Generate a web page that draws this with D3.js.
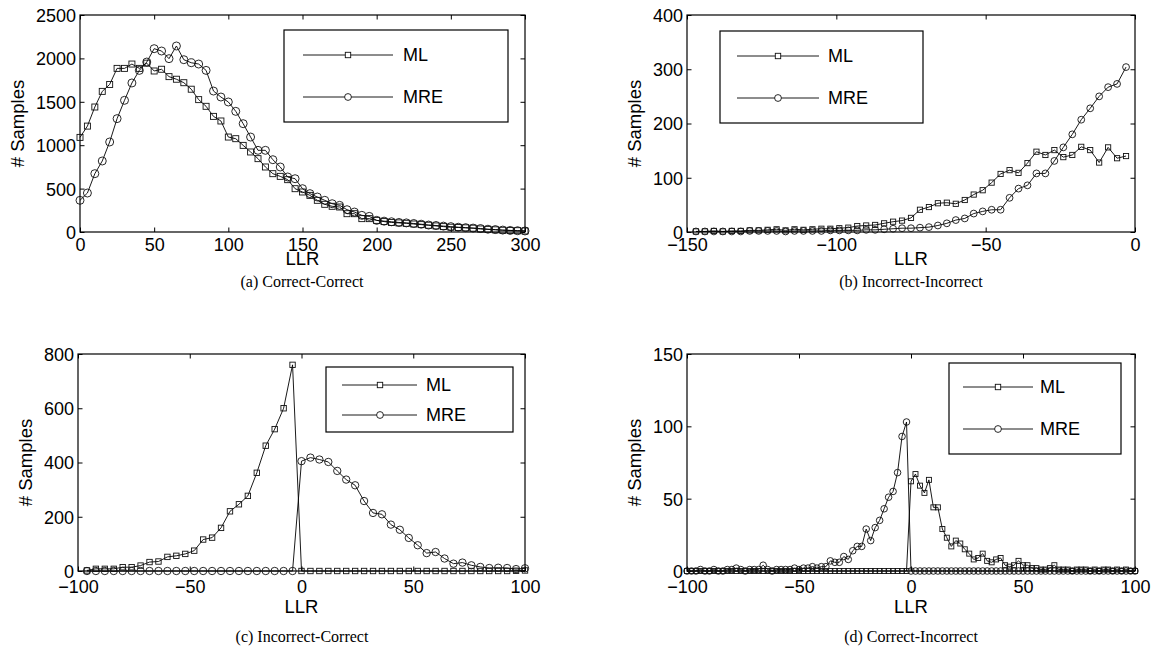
<!DOCTYPE html>
<html>
<head>
<meta charset="utf-8">
<script src="https://cdn.jsdelivr.net/npm/d3@7"></script>
<style>
  body { margin: 0; background: #fff; }
  svg text { font-family: "Liberation Sans", Arial, Helvetica, sans-serif; fill: #000; }
  svg text.caption { font-family: "Liberation Serif", "Times New Roman", serif; font-size: 16px; }
</style>
</head>
<body>
<svg id="fig" width="1155" height="658"></svg>
<script>
// ---- data ----
// (a) Correct-Correct, bins every 5 from 0 to 300
var llrA = d3.range(0, 301, 5);
var mlA = [1090, 1220, 1440, 1620, 1700, 1885, 1885, 1935, 1885, 1945, 1855, 1875, 1790, 1760, 1720, 1645,
  1525, 1448, 1332, 1279, 1094, 1075, 998, 922, 845, 749, 672, 641, 603, 499, 461, 422, 365, 319, 296, 288,
  211, 211, 154, 154, 134, 120, 110, 105, 100, 92, 85, 78, 70, 62, 55, 52, 48, 44, 35, 30, 25, 20, 18, 15, 12];
var mreA = [365, 449, 672, 818, 1037, 1306, 1517, 1717, 1862, 1958, 2112, 2085, 1997, 2143, 1985, 1950,
  1935, 1862, 1624, 1555, 1498, 1390, 1248, 1094, 941, 941, 833, 749, 634, 614, 499, 442, 403, 365, 326, 307,
  257, 230, 192, 180, 134, 125, 118, 110, 105, 98, 90, 80, 75, 68, 62, 55, 50, 45, 40, 32, 28, 22, 18, 15, 12];

// (b) Incorrect-Incorrect, bins every 3 from -147 to -3
var llrB = d3.range(-147, 0, 3);
var mlB = [1, 1, 2, 1, 2, 2, 3, 3, 4, 5, 3, 5, 4, 5, 6, 6, 7, 8, 11, 12, 13, 16, 19, 21, 26,
  41, 46, 53, 54, 52, 59, 69, 77, 91, 107, 114, 109, 127, 148, 142, 151, 138, 142, 157, 151, 128, 156, 136, 140];
var mreB = [1, 1, 1, 1, 1, 1, 2, 2, 2, 2, 1, 2, 2, 2, 2, 3, 3, 3, 3, 4, 4, 5, 6, 7, 7,
  8, 9, 12, 16, 22, 25, 34, 38, 41, 41, 63, 80, 86, 108, 108, 131, 156, 180, 207, 228, 250, 267, 273, 304];

// (c) Incorrect-Correct, bins every 4 from -96 to 100
var llrC = d3.range(-96, 101, 4);
var mlC = [2, 8, 8, 8, 14, 14, 20, 33, 35, 52, 56, 63, 75, 116, 123, 159, 220, 246, 277, 362, 462, 523, 600, 760,
  0, 0, 0, 0, 0, 0, 0, 0, 0, 0, 0, 0, 0, 0, 0, 0, 0, 0, 0, 0, 0, 0, 0, 0, 1, 2];
var mreC = [0, 0, 0, 0, 0, 0, 0, 0, 0, 0, 0, 0, 0, 0, 0, 0, 0, 0, 0, 0, 0, 0, 0, 0,
  405, 418, 411, 402, 369, 337, 316, 258, 214, 209, 171, 152, 122, 95, 66, 70, 46, 27, 31, 21, 15, 11, 12, 11, 7, 10];

// (d) Correct-Incorrect, bins every 2 from -100 to 100
var llrD = d3.range(-100, 101, 2);
var mlD = [0, 0, 0, 0, 0, 0, 0, 0, 0, 0, 0, 0, 0, 0, 0, 0, 0, 0, 0, 0, 0, 0, 0, 0, 0,
  0, 0, 0, 0, 0, 0, 0, 0, 0, 0, 0, 0, 0, 0, 0, 0, 0, 0, 0, 0, 0, 0, 0, 0, 0,
  62, 67, 59, 54, 63, 44, 44, 29, 23, 17, 21, 19, 15, 12, 8, 9, 12, 7, 6, 8, 9, 4, 3, 4, 7, 4,
  4, 2, 2, 1, 1, 2, 4, 1, 1, 1, 0, 1, 1, 1, 0, 1, 0, 1, 1, 0, 1, 0, 1, 0, 0];
var mreD = [0, 0, 0, 1, 0, 0, 1, 0, 0, 1, 1, 2, 1, 0, 1, 1, 1, 4, 1, 0, 1, 1, 1, 1, 2,
  1, 2, 2, 3, 2, 3, 3, 7, 6, 6, 10, 8, 14, 17, 17, 29, 21, 30, 35, 43, 51, 55, 68, 93, 103,
  0, 0, 0, 0, 0, 0, 0, 0, 0, 0, 0, 0, 0, 0, 0, 0, 0, 0, 0, 0, 0, 0, 0, 0, 0, 0,
  0, 0, 0, 0, 0, 0, 0, 0, 0, 0, 0, 0, 0, 0, 0, 0, 0, 0, 0, 0, 0, 0, 0, 0, 0];

var seriesNames = ["ML", "MRE"];

var svg = d3.select("#fig");
var fmt = d3.format("d");

function drawPanel(p) {
  var g = svg.append("g");
  var x = d3.scaleLinear().domain(p.xDomain).range([p.left, p.right]);
  var y = d3.scaleLinear().domain(p.yDomain).range([p.bottom, p.top]);
  var tl = 4.5;

  g.append("g").attr("transform", "translate(0," + p.bottom + ")")
    .call(d3.axisBottom(x).tickValues(p.xTicks).tickFormat(fmt).tickSize(-tl).tickSizeOuter(0).tickPadding(p.xpad));
  g.append("g").attr("transform", "translate(0," + p.top + ")")
    .call(d3.axisTop(x).tickValues(p.xTicks).tickSize(-tl).tickSizeOuter(0).tickFormat(""));
  var leftAxis = g.append("g").attr("transform", "translate(" + p.left + ",0)")
    .call(d3.axisLeft(y).tickValues(p.yTicks).tickFormat(fmt).tickSize(-tl).tickSizeOuter(0).tickPadding(4));
  g.append("g").attr("transform", "translate(" + p.right + ",0)")
    .call(d3.axisRight(y).tickValues(p.yTicks).tickSize(-tl).tickSizeOuter(0).tickFormat(""));

  g.selectAll(".domain").remove();
  g.selectAll(".tick line").attr("stroke", "#000").attr("stroke-width", 1);
  g.selectAll(".tick text").attr("font-size", 18).attr("font-family", null);
  leftAxis.selectAll(".tick text").attr("dy", "0.36em");

  g.append("rect")
    .attr("x", p.left).attr("y", p.top)
    .attr("width", p.right - p.left).attr("height", p.bottom - p.top)
    .attr("fill", "none").attr("stroke", "#000").attr("stroke-width", 1.2);

  // axis labels
  g.append("text").attr("x", (p.left + p.right) / 2).attr("y", p.bottom + p.xlabDy)
    .attr("text-anchor", "middle").attr("font-size", 18.5).text("LLR");
  g.append("text")
    .attr("transform", "translate(" + p.ylabX + "," + (p.top + p.bottom) / 2 + ") rotate(-90)")
    .attr("text-anchor", "middle").attr("font-size", 18.5).text("# Samples");

  var line = d3.line().x(function(d) { return x(d[0]); }).y(function(d) { return y(d[1]); });
  var sets = [d3.zip(p.llr, p.ml), d3.zip(p.llr, p.mre)];

  var plot = g.append("g");
  sets.forEach(function(pts) {
    plot.append("path").datum(pts).attr("d", line)
      .attr("fill", "none").attr("stroke", "#000").attr("stroke-width", 0.9);
  });
  // ML squares
  plot.selectAll("rect.ml").data(sets[0]).enter().append("rect")
    .attr("x", function(d) { return x(d[0]) - p.sq / 2; })
    .attr("y", function(d) { return y(d[1]) - p.sq / 2; })
    .attr("width", p.sq).attr("height", p.sq)
    .attr("fill", "none").attr("stroke", "#111").attr("stroke-width", 0.9);
  // MRE circles
  plot.selectAll("circle.mre").data(sets[1]).enter().append("circle")
    .attr("cx", function(d) { return x(d[0]); })
    .attr("cy", function(d) { return y(d[1]); })
    .attr("r", p.cr)
    .attr("fill", "none").attr("stroke", "#111").attr("stroke-width", 0.9);

  // legend
  var L = p.legend;
  var lg = g.append("g");
  lg.append("rect").attr("x", L.x).attr("y", L.y).attr("width", L.w).attr("height", L.h)
    .attr("fill", "#fff").attr("stroke", "#000").attr("stroke-width", 1.2);
  seriesNames.forEach(function(name, i) {
    var ly = L.rows[i];
    lg.append("line").attr("x1", L.l1).attr("x2", L.l2).attr("y1", ly).attr("y2", ly)
      .attr("stroke", "#000").attr("stroke-width", 0.9);
    if (i === 0) {
      lg.append("rect").attr("x", L.mk - 2.7).attr("y", ly - 2.7).attr("width", 5.4).attr("height", 5.4)
        .attr("fill", "#fff").attr("stroke", "#111").attr("stroke-width", 0.9);
    } else {
      lg.append("circle").attr("cx", L.mk).attr("cy", ly).attr("r", 3.4)
        .attr("fill", "#fff").attr("stroke", "#111").attr("stroke-width", 0.9);
    }
    lg.append("text").attr("x", L.tx).attr("y", ly).attr("dy", "0.36em")
      .attr("font-size", 18).text(name);
  });

  svg.append("text").attr("class", "caption")
    .attr("x", p.capX).attr("y", p.capY).attr("text-anchor", "middle").text(p.caption);
}

drawPanel({
  left: 80, right: 525, top: 15, bottom: 232,
  xDomain: [0, 300], yDomain: [0, 2500],
  xTicks: [0, 50, 100, 150, 200, 250, 300], yTicks: [0, 500, 1000, 1500, 2000, 2500],
  llr: llrA, ml: mlA, mre: mreA, sq: 6, cr: 4,
  ylabX: 24, xpad: 6, xlabDy: 33,
  legend: { x: 284, y: 30, w: 224, h: 92, rows: [55, 97], l1: 303, l2: 393, mk: 348, tx: 403 },
  caption: "(a)  Correct-Correct", capX: 302, capY: 287
});

drawPanel({
  left: 687, right: 1135, top: 15, bottom: 232,
  xDomain: [-150, 0], yDomain: [0, 400],
  xTicks: [-150, -100, -50, 0], yTicks: [0, 100, 200, 300, 400],
  llr: llrB, ml: mlB, mre: mreB, sq: 5.2, cr: 3.4,
  ylabX: 641, xpad: 6, xlabDy: 33,
  legend: { x: 720, y: 31, w: 203, h: 92, rows: [56, 98], l1: 737, l2: 819, mk: 778, tx: 828 },
  caption: "(b)  Incorrect-Incorrect", capX: 911, capY: 287
});

drawPanel({
  left: 78, right: 525, top: 354, bottom: 571,
  xDomain: [-100, 100], yDomain: [0, 800],
  xTicks: [-100, -50, 0, 50, 100], yTicks: [0, 200, 400, 600, 800],
  llr: llrC, ml: mlC, mre: mreC, sq: 5.4, cr: 3.7,
  ylabX: 32, xpad: 9, xlabDy: 42,
  legend: { x: 326, y: 367, w: 187, h: 65, rows: [385, 415], l1: 342, l2: 417, mk: 380, tx: 426 },
  caption: "(c)  Incorrect-Correct", capX: 302, capY: 642
});

drawPanel({
  left: 687, right: 1135, top: 354, bottom: 571,
  xDomain: [-100, 100], yDomain: [0, 150],
  xTicks: [-100, -50, 0, 50, 100], yTicks: [0, 50, 100, 150],
  llr: llrD, ml: mlD, mre: mreD, sq: 5, cr: 3.3,
  ylabX: 641, xpad: 9, xlabDy: 42,
  legend: { x: 949, y: 363, w: 172, h: 91, rows: [387, 429], l1: 963, l2: 1033, mk: 998, tx: 1040 },
  caption: "(d)  Correct-Incorrect", capX: 911, capY: 642
});
</script>
</body>
</html>
